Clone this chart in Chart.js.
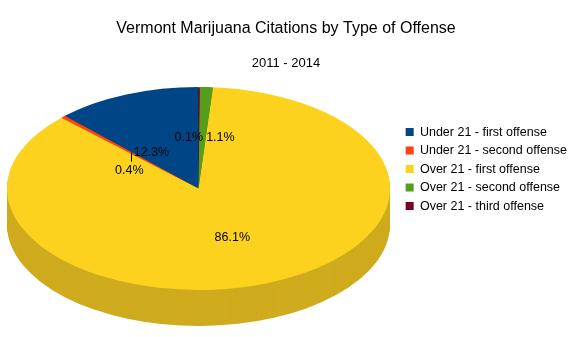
<!DOCTYPE html>
<html>
<head>
<meta charset="utf-8">
<script src="https://cdn.jsdelivr.net/npm/chart.js@4.4.1/dist/chart.umd.min.js"></script>
<style>
  html, body { margin: 0; padding: 0; background: #fff; }
  #wrap { width: 576px; height: 337px; }
</style>
</head>
<body>
<div id="wrap"><canvas id="pie"></canvas></div>
<script>
// data (percent of citations, 2011 - 2014)
const categories = [
    "Under 21 - first offense",
    "Under 21 - second offense",
    "Over 21 - first offense",
    "Over 21 - second offense",
    "Over 21 - third offense"
];
const shares = [12.3, 0.4, 86.1, 1.1, 0.1];

const topColors = ["#004586", "#ff420e", "#fcd21f", "#579d1c", "#7e0021"];
const sideColors = ["#00366b", "#cc350b", "#cfab1e", "#467e16", "#65001a"];

// where the tilted pie sits on the page (ellipse of the top face + rim depth)
const ell = { cx: 198.5, cy: 188.5, rx: 191.5, ry: 101.5, depth: 36 };
// nudges for the value labels, so they sit like the original
const labelShift = [[-11, 11.5], [-1.5, 18], [0, 1.5], [18, 0], [-10, 0]];
const leaderLine = [false, true, false, false, false];

function tilt(ctx, arc, dy) {
    const k = arc.outerRadius;
    ctx.translate(ell.cx, ell.cy + dy);
    // mirrored so slices run counter-clockwise, like the original
    ctx.scale(-ell.rx / k, ell.ry / k);
    ctx.translate(-arc.x, -arc.y);
}

const tiltPie = {
    id: "tiltPie",
    beforeDatasetsDraw(chart) {
        const ctx = chart.ctx;
        const arcs = chart.getDatasetMeta(0).data;
        // rim: repeat each slice shape downwards in the darker shade
        for (let d = ell.depth; d > 0; d--) {
            arcs.forEach((a, i) => {
                ctx.save();
                tilt(ctx, a, d);
                ctx.beginPath();
                ctx.moveTo(a.x, a.y);
                ctx.arc(a.x, a.y, a.outerRadius, a.startAngle, a.endAngle);
                ctx.closePath();
                ctx.fillStyle = sideColors[i];
                ctx.fill();
                ctx.restore();
            });
        }
        ctx.save();
        tilt(ctx, arcs[0], 0);
    },
    afterDatasetsDraw(chart) {
        const ctx = chart.ctx;
        ctx.restore();
        const arcs = chart.getDatasetMeta(0).data;
        ctx.save();
        ctx.font = "12.5px 'Liberation Sans', Arial, sans-serif";
        ctx.fillStyle = "#000";
        ctx.textAlign = "center";
        ctx.textBaseline = "middle";
        arcs.forEach((a, i) => {
            const mid = (a.startAngle + a.endAngle) / 2;
            const px = ell.cx - 0.5 * ell.rx * Math.cos(mid);
            const py = ell.cy + 0.5 * ell.ry * Math.sin(mid);
            const tx = px + labelShift[i][0];
            const ty = py + labelShift[i][1];
            if (leaderLine[i]) {
                ctx.strokeStyle = "#000";
                ctx.lineWidth = 1;
                ctx.beginPath();
                ctx.moveTo(Math.round(px) + 0.5, py);
                ctx.lineTo(Math.round(px) + 0.5, ty - 9);
                ctx.stroke();
            }
            ctx.fillText(shares[i].toFixed(1) + "%", tx, ty);
        });
        ctx.restore();
    }
};

new Chart(document.getElementById("pie"), {
    type: "pie",
    data: {
        labels: categories,
        datasets: [{
            data: shares,
            backgroundColor: topColors,
            borderWidth: 0
        }]
    },
    options: {
        responsive: true,
        maintainAspectRatio: false,
        animation: false,
        layout: { padding: { left: -5, right: -1 } },
        plugins: {
            title: {
                display: true,
                text: "Vermont Marijuana Citations by Type of Offense",
                color: "#000",
                font: { family: "'Liberation Sans', Arial, sans-serif", size: 16, weight: "normal" },
                padding: { top: 19, bottom: 17 }
            },
            subtitle: {
                display: true,
                text: "2011 - 2014",
                color: "#000",
                font: { family: "'Liberation Sans', Arial, sans-serif", size: 13, weight: "normal" },
                padding: { top: 0, bottom: 49 }
            },
            legend: {
                position: "right",
                align: "start",
                fullSize: false,
                labels: {
                    color: "#000",
                    font: { family: "'Liberation Sans', Arial, sans-serif", size: 12.5 },
                    boxWidth: 8,
                    boxHeight: 8,
                    padding: 6
                }
            },
            tooltip: { enabled: false }
        }
    },
    plugins: [tiltPie]
});
</script>
</body>
</html>
